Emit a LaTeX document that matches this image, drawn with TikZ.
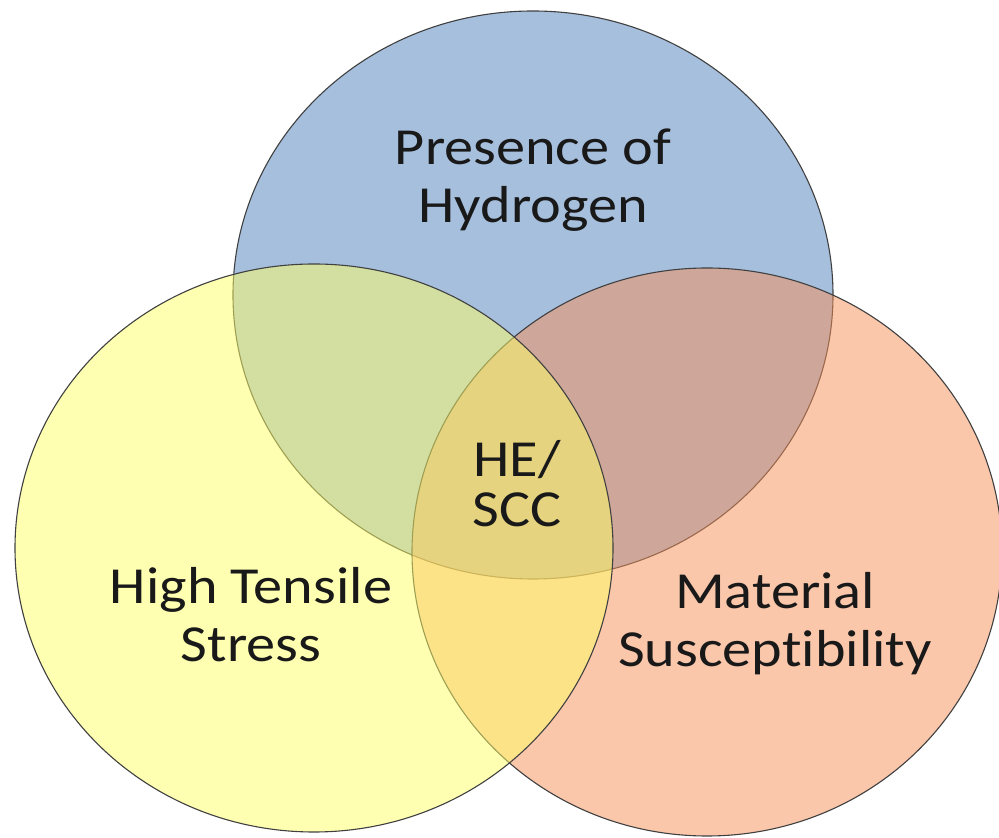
\documentclass[tikz,border=0pt]{standalone}
\usepackage{fontspec}
\setmainfont{Carlito}[Ligatures=NoCommon]
\usetikzlibrary{
	shapes.geometric	% Allows ellipse shaped nodes
}

\definecolor{hblue}{HTML}{4F81BD}
\definecolor{horange}{HTML}{F79159}
\definecolor{hyellow}{HTML}{FFFF66}

\begin{document}
\begin{tikzpicture}[
			x=1pt, y=1pt,
			bubble/.style={
				ellipse,
				inner sep=0pt,
				minimum height=568pt,
				draw=black!75, line width=1.1pt,
				fill opacity=0.5
			},
			caption/.style={
				font=\fontsize{52}{58}\selectfont,
				align=center,
				text=black!90,
				anchor=base,
				xscale=1.12,
				transform shape
			}]

			\path [use as bounding box, fill=white] (0,0) rectangle (999,838);

			%%% Draw the three factors as overlapping ellipses
			\foreach \name/\x/\y/\w/\col in {hydrogen/533/543/600/hblue, material/707/286/590/horange, stress/314/290/598/hyellow} {
				% later ellipses are laid over the earlier ones
				\node [bubble, minimum width=\w pt, fill=\col] (\name) at (\x,\y) {};
			};

			% captions sit on the baseline of their last line
			\node [caption] (presence) at (533,615) {Presence of\\Hydrogen};
			\node [caption] (tensile) at (251,176) {High Tensile\\Stress};
			\node [caption] (suscept) at (775,171) {Material\\Susceptibility};
			\node [caption, font=\fontsize{52}{50}\selectfont] (hescc) at (517,311) {HE/\\SCC};

		\end{tikzpicture}
\end{document}
